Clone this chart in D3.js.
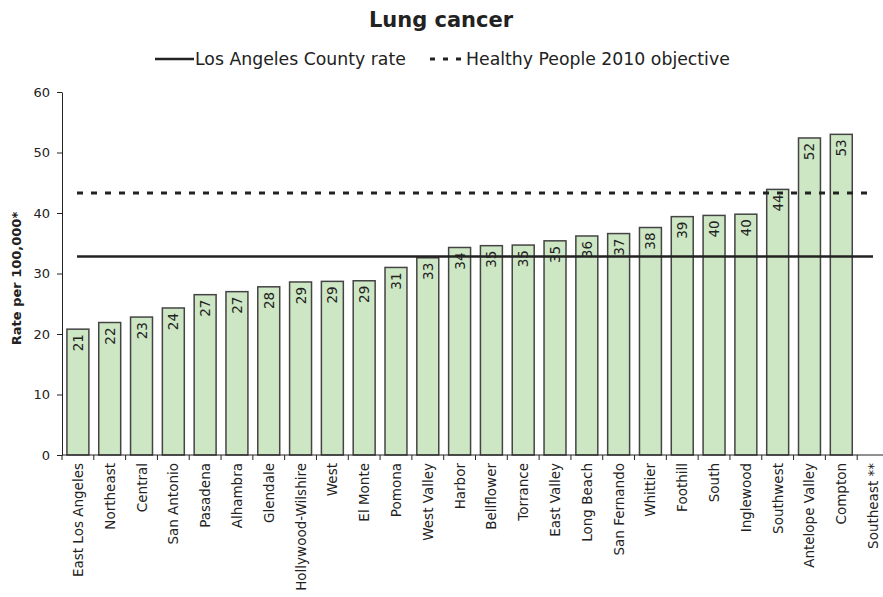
<!DOCTYPE html>
<html>
<head>
<meta charset="utf-8">
<script src="https://cdn.jsdelivr.net/npm/d3@7"></script>
<style>
	body { margin: 0; background: #fff; }
	svg { font-family: "DejaVu Sans", Verdana, sans-serif; }
</style>
</head>
<body>
<svg id="chart" width="883" height="597"></svg>
<script>
// data
var areas = ["East Los Angeles", "Northeast", "Central", "San Antonio", "Pasadena", "Alhambra",
	"Glendale", "Hollywood-Wilshire", "West", "El Monte", "Pomona", "West Valley", "Harbor",
	"Bellflower", "Torrance", "East Valley", "Long Beach", "San Fernando", "Whittier", "Foothill",
	"South", "Inglewood", "Southwest", "Antelope Valley", "Compton", "Southeast **"];
var rates = [20.8, 21.9, 22.8, 24.3, 26.5, 27.0, 27.8, 28.6, 28.7, 28.8, 31.0, 32.6, 34.3,
	34.6, 34.7, 35.4, 36.2, 36.6, 37.6, 39.4, 39.6, 39.8, 43.9, 52.4, 53.0, null];
var countyRate = 32.8;
var hpObjective = 43.3;
var yTicks = [0, 10, 20, 30, 40, 50, 60];

var svg = d3.select("#chart");
var margin = {"top": 92, "left": 62, "bottom": 142};
var width = 883, height = 597;

// last band (Southeast) runs past the right edge, as in the original
var x = d3.scaleBand()
	.domain(areas)
	.range([margin.left, 889])
	.paddingInner(0.31)
	.paddingOuter(0.155);
var y = d3.scaleLinear()
	.domain([0, 60])
	.range([height - margin.bottom, margin.top]);

// title
svg.append("text")
	.attr("x", 441).attr("y", 27)
	.attr("text-anchor", "middle")
	.attr("font-size", "21px")
	.attr("font-weight", "bold")
	.attr("fill", "#222")
	.text("Lung cancer");

// legend
var lg = svg.append("g").attr("transform", "translate(0,59)");
lg.append("line").attr("x1", 155).attr("x2", 194).attr("y1", 0).attr("y2", 0)
	.attr("stroke", "#222").attr("stroke-width", 2.5);
lg.append("text").attr("x", 195).attr("y", 6).attr("font-size", "17.3px").attr("fill", "#222")
	.text("Los Angeles County rate");
lg.append("line").attr("x1", 430).attr("x2", 463).attr("y1", 0).attr("y2", 0)
	.attr("stroke", "#222").attr("stroke-width", 3).attr("stroke-dasharray", "5,8");
lg.append("text").attr("x", 466).attr("y", 6).attr("font-size", "17.3px").attr("fill", "#222")
	.text("Healthy People 2010 objective");

// bars
var bars = svg.append("g").attr("class", "bars");
var data = areas.map(function(d, i){ return {"cat": d, "val": rates[i]}; })
	.filter(function(d){ return d.val !== null; });

bars.selectAll("rect")
	.data(data)
	.enter().append("rect")
		.attr("x", function(d){ return x(d.cat); })
		.attr("y", function(d){ return y(d.val); })
		.attr("width", x.bandwidth())
		.attr("height", function(d){ return y(0) - y(d.val); })
		.attr("fill", "#cde6c4")
		.attr("stroke", "#444")
		.attr("stroke-width", 1.5);

// reference lines
var lx1 = x.range()[0] + 15, lx2 = 873;
svg.append("line")
	.attr("x1", lx1).attr("x2", lx2)
	.attr("y1", y(countyRate)).attr("y2", y(countyRate))
	.attr("stroke", "#222").attr("stroke-width", 2.5);
svg.append("line")
	.attr("x1", lx1).attr("x2", lx2 - 6)
	.attr("y1", y(hpObjective)).attr("y2", y(hpObjective))
	.attr("stroke", "#222").attr("stroke-width", 3)
	.attr("stroke-dasharray", "6,8");

// value labels
bars.selectAll("text")
	.data(data)
	.enter().append("text")
		.attr("transform", function(d){
			return "translate(" + (x(d.cat) + x.bandwidth() / 2 + 5) + "," + (y(d.val) + 5) + ") rotate(-90)";
		})
		.attr("text-anchor", "end")
		.attr("font-size", "13.5px")
		.attr("fill", "#222")
		.text(function(d){ return Math.round(d.val); });

// y axis
var yAxis = svg.append("g")
	.attr("transform", "translate(" + margin.left + ",0)")
	.call(d3.axisLeft(y).tickValues(yTicks).tickSize(5).tickPadding(7).tickSizeOuter(0));
yAxis.selectAll("text").attr("font-size", "13px").attr("fill", "#222")
	.attr("font-family", "DejaVu Sans, Verdana, sans-serif");
yAxis.selectAll("line, path").attr("stroke", "#222");

svg.append("text")
	.attr("transform", "translate(21," + ((y(0) + y(60)) / 2 + 5) + ") rotate(-90)")
	.attr("text-anchor", "middle")
	.attr("font-size", "13px")
	.attr("font-weight", "bold")
	.attr("fill", "#222")
	.text("Rate per 100,000*");

// x axis
var xg = svg.append("g").attr("class", "x-axis");
xg.append("line")
	.attr("x1", margin.left).attr("x2", width)
	.attr("y1", y(0)).attr("y2", y(0))
	.attr("stroke", "#222");
var step = x.step();
xg.selectAll("line.tick")
	.data(d3.range(areas.length + 1))
	.enter().append("line")
		.attr("class", "tick")
		.attr("x1", function(i){ return x.range()[0] + i * step; })
		.attr("x2", function(i){ return x.range()[0] + i * step; })
		.attr("y1", y(0)).attr("y2", y(0) + 5)
		.attr("stroke", "#222");
xg.selectAll("text")
	.data(areas)
	.enter().append("text")
		.attr("transform", function(d){
			return "translate(" + (x(d) + x.bandwidth() / 2 + 5) + "," + (y(0) + 8) + ") rotate(-90)";
		})
		.attr("text-anchor", "end")
		.attr("font-size", "13.5px")
		.attr("fill", "#222")
		.text(function(d){ return d; });
</script>
</body>
</html>
